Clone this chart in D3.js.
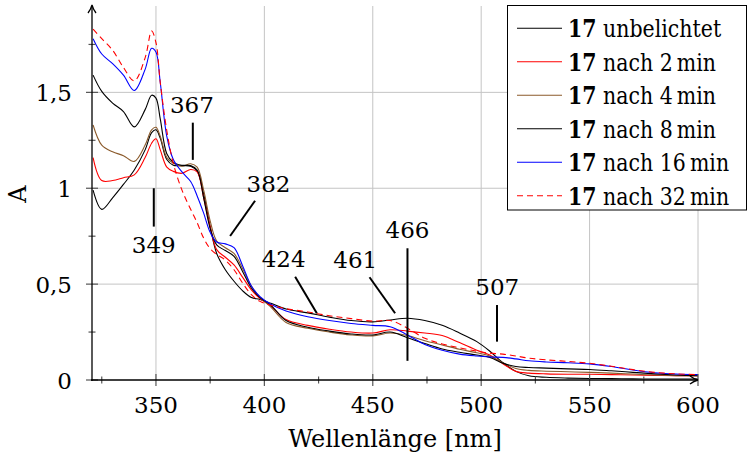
<!DOCTYPE html>
<html><head><meta charset="utf-8">
<script src="https://cdn.jsdelivr.net/npm/d3@7"></script>
<style>
html,body{margin:0;padding:0;background:#fff;}
svg{display:block;}
</style></head>
<body>
<svg id="chart" width="748" height="462"></svg>
<script>
const wavelengths = [321,325,330,335,340,345,348,350,352,355,358,362,366,369,372,375,378,382,386,390,394,398,403,410,420,430,440,450,458,466,474,482,490,498,504,510,516,522,530,540,550,560,570,580,590,600];
const seriesNames = ["unbelichtet","nach 2\u2009min","nach 4\u2009min","nach 8\u2009min","nach 16\u2009min","nach 32\u2009min"];
const compound = "17";
const s0 = [0.99,0.89,0.95,1.02,1.095,1.20,1.29,1.305,1.26,1.15,1.12,1.118,1.115,1.09,0.97,0.80,0.66,0.575,0.515,0.465,0.43,0.42,0.40,0.37,0.35,0.328,0.31,0.303,0.313,0.322,0.31,0.285,0.245,0.20,0.15,0.09,0.045,0.022,0.014,0.01,0.008,0.007,0.006,0.005,0.005,0.005];
const s1 = [1.16,1.04,1.04,1.055,1.07,1.16,1.235,1.258,1.20,1.11,1.088,1.078,1.098,1.085,0.95,0.80,0.68,0.64,0.60,0.535,0.47,0.425,0.385,0.315,0.285,0.265,0.25,0.245,0.262,0.255,0.245,0.232,0.195,0.155,0.13,0.085,0.045,0.036,0.032,0.03,0.03,0.028,0.026,0.024,0.022,0.022];
const s2 = [1.33,1.225,1.19,1.17,1.14,1.225,1.305,1.318,1.27,1.16,1.13,1.115,1.128,1.11,0.99,0.83,0.725,0.69,0.66,0.58,0.49,0.43,0.38,0.30,0.27,0.25,0.235,0.23,0.245,0.232,0.205,0.183,0.16,0.142,0.125,0.09,0.06,0.05,0.046,0.043,0.04,0.036,0.031,0.026,0.023,0.022];
const s3 = [1.59,1.505,1.444,1.40,1.32,1.41,1.485,1.47,1.36,1.18,1.135,1.12,1.118,1.095,0.95,0.79,0.705,0.675,0.645,0.565,0.48,0.43,0.39,0.31,0.275,0.255,0.24,0.235,0.25,0.22,0.19,0.162,0.145,0.13,0.118,0.088,0.07,0.065,0.062,0.058,0.055,0.048,0.04,0.032,0.026,0.022];
const s4 = [1.78,1.70,1.65,1.59,1.51,1.62,1.73,1.71,1.55,1.27,1.15,1.085,1.035,0.96,0.87,0.77,0.72,0.71,0.69,0.595,0.49,0.435,0.395,0.36,0.33,0.31,0.295,0.285,0.278,0.235,0.185,0.155,0.135,0.125,0.12,0.118,0.11,0.10,0.094,0.09,0.084,0.07,0.052,0.038,0.031,0.028];
const s5 = [1.83,1.78,1.72,1.63,1.56,1.68,1.82,1.76,1.55,1.30,1.13,0.99,0.89,0.82,0.74,0.685,0.655,0.625,0.575,0.505,0.445,0.41,0.39,0.372,0.355,0.335,0.32,0.307,0.31,0.27,0.218,0.188,0.168,0.15,0.14,0.135,0.125,0.114,0.105,0.097,0.087,0.072,0.054,0.04,0.032,0.028];
const seriesValues = [s0,s1,s2,s3,s4,s5];
const xTicks = [350,400,450,500,550,600];
const xMinorTicks = [325,375,425,475,525,575];
const yTicks = [0,0.5,1,1.5];
const yMinorTicks = [0.25,0.75,1.25,1.75];
const annoLabels = ["349","367","382","424","461","466","507"];
const annoFrom = [[349,0.80],[367,1.148],[384.2,0.751],[414.2,0.539],[448.5,0.536],[466,0.10],[507.3,0.20]];
const annoTo   = [[349,1.00],[367,1.342],[395.7,0.935],[424.2,0.348],[460.3,0.348],[466,0.687],[507.3,0.391]];
const annoText = [[349,0.662],[366.6,1.393],[401.9,0.98],[408.9,0.589],[441.9,0.584],[466,0.741],[507.4,0.443]];

const colors = ["#000000","#ff0000","#8b5a2b","#000000","#0000ff","#ff0000"];
const dashes = [null,null,null,null,null,"6,4"];
const FONT = "DejaVu Serif";
const FS_NUM = 23, FS_TXT = 24;

const svg = d3.select("#chart").attr("font-family", FONT);
const x = d3.scaleLinear().domain([320.5,600]).range([92,698]);
const y = d3.scaleLinear().domain([0,1.94]).range([380,8]);
const fmt = v => String(v).replace(".", ",");

const grid = svg.append("g");
grid.selectAll("line.v").data(xTicks).join("line")
  .attr("x1",d=>x(d)).attr("x2",d=>x(d)).attr("y1",y(0)).attr("y2",6)
  .attr("stroke","#c4c4c4").attr("stroke-width",1);
grid.selectAll("line.h").data(yTicks.filter(d=>d>0)).join("line")
  .attr("x1",x.range()[0]).attr("x2",x(600)).attr("y1",d=>y(d)).attr("y2",d=>y(d))
  .attr("stroke","#c4c4c4").attr("stroke-width",1);

svg.append("clipPath").attr("id","clip").append("rect")
  .attr("x",x.range()[0]).attr("y",0).attr("width",x(600)-x.range()[0]).attr("height",y(0));

const line = d3.line().x(d=>x(d[0])).y(d=>y(d[1])).curve(d3.curveCatmullRom.alpha(0.5));
const gCurves = svg.append("g").attr("clip-path","url(#clip)");
seriesValues.forEach((vals,i)=>{
  const pts = wavelengths.map((w,j)=>[w,vals[j]]);
  gCurves.append("path").datum(pts).attr("d",line)
    .attr("fill","none").attr("stroke",colors[i]).attr("stroke-width",1.1)
    .attr("stroke-dasharray",dashes[i]).attr("stroke-linejoin","round");
});

const axisG = svg.append("g");
axisG.selectAll("line.xt").data(xTicks).join("line")
  .attr("x1",d=>x(d)).attr("x2",d=>x(d)).attr("y1",y(0)-6).attr("y2",y(0)+6)
  .attr("stroke","#555").attr("stroke-width",1.2);
axisG.selectAll("line.xm").data(xMinorTicks).join("line")
  .attr("x1",d=>x(d)).attr("x2",d=>x(d)).attr("y1",y(0)-3.5).attr("y2",y(0)+3.5)
  .attr("stroke","#555").attr("stroke-width",1.2);
axisG.selectAll("line.yt").data(yTicks).join("line")
  .attr("x1",x.range()[0]-6).attr("x2",x.range()[0]+6).attr("y1",d=>y(d)).attr("y2",d=>y(d))
  .attr("stroke","#555").attr("stroke-width",1.2);
axisG.selectAll("line.ym").data(yMinorTicks).join("line")
  .attr("x1",x.range()[0]-3.5).attr("x2",x.range()[0]+3.5).attr("y1",d=>y(d)).attr("y2",d=>y(d))
  .attr("stroke","#555").attr("stroke-width",1.2);

const x0 = x.range()[0], yb = y(0);
axisG.append("line").attr("x1",x0).attr("x2",x0).attr("y1",yb+1).attr("y2",7)
  .attr("stroke","#000").attr("stroke-width",1.3);
axisG.append("line").attr("x1",x0-1).attr("x2",x(600)-1).attr("y1",yb).attr("y2",yb)
  .attr("stroke","#000").attr("stroke-width",1.3);
axisG.append("path").attr("d",`M${x0-4},${13} Q${x0-1},${9} ${x0},${5} Q${x0+1},${9} ${x0+4},${13}`)
  .attr("fill","none").attr("stroke","#000").attr("stroke-width",1.3);
const xe = x(600);
axisG.append("path").attr("d",`M${xe-8},${yb-4} Q${xe-4},${yb-1} ${xe},${yb} Q${xe-4},${yb+1} ${xe-8},${yb+4}`)
  .attr("fill","none").attr("stroke","#000").attr("stroke-width",1.3);

axisG.selectAll("text.xl").data(xTicks).join("text")
  .attr("x",d=>x(d)).attr("y",413).attr("text-anchor","middle")
  .attr("font-size",FS_NUM).text(d=>d);
axisG.selectAll("text.yl").data(yTicks).join("text")
  .attr("x",72).attr("y",d=>y(d)+9).attr("text-anchor","end")
  .attr("font-size",FS_NUM).text(d=>fmt(d));

svg.append("text").attr("x",(x0+xe)/2).attr("y",447).attr("text-anchor","middle")
  .attr("font-size",FS_TXT).text("Wellenlänge [nm]");
svg.append("text").attr("transform",`translate(26,${(y(0)+8)/2}) rotate(-90)`)
  .attr("text-anchor","middle").attr("font-size",FS_TXT).text("A");

const aG = svg.append("g");
annoLabels.forEach((lab,i)=>{
  aG.append("line")
    .attr("x1",x(annoFrom[i][0])).attr("y1",y(annoFrom[i][1]))
    .attr("x2",x(annoTo[i][0])).attr("y2",y(annoTo[i][1]))
    .attr("stroke","#000").attr("stroke-width",2);
  aG.append("text").attr("x",x(annoText[i][0])).attr("y",y(annoText[i][1]))
    .attr("text-anchor","middle").attr("font-size",FS_NUM).text(lab);
});

const lg = svg.append("g");
lg.append("rect").attr("x",507.5).attr("y",5.5).attr("width",239).attr("height",204.5)
  .attr("fill","#fff").attr("stroke","#000").attr("stroke-width",1);
seriesNames.forEach((nm,i)=>{
  const by = 37 + i*33.5;
  lg.append("line").attr("x1",517).attr("x2",562).attr("y1",by-8.7).attr("y2",by-8.7)
    .attr("stroke",colors[i]).attr("stroke-width",1.1).attr("stroke-dasharray",dashes[i]);
  const t = lg.append("text").attr("transform",`translate(568,${by}) scale(0.855,1)`)
    .attr("font-size",FS_TXT);
  t.append("tspan").attr("font-weight","bold").text(compound);
  t.append("tspan").text(" " + nm);
});
</script>
</body></html>
